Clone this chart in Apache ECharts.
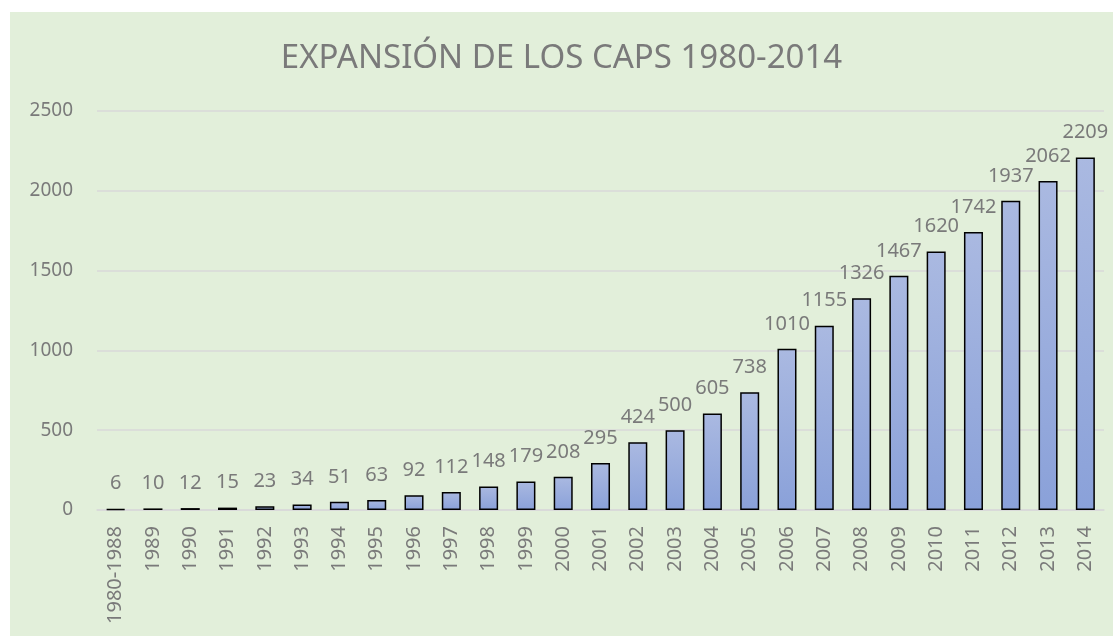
<!DOCTYPE html>
<html lang="es">

<head>
    <meta charset="utf-8">
    <title>Expansión de los CAPS 1980-2014</title>
    <style>
        * {
            margin: 0;
            padding: 0;
        }

        body {
            background: #ffffff;
        }

        #chart-container {
            position: absolute;
            left: 10px;
            top: 12px;
            width: 1103px;
            height: 624px;
            background: #E2EFDA;
        }
    </style>
</head>

<body>
    <div id="chart-container"></div>
    <script src="https://cdn.jsdelivr.net/npm/echarts@6/dist/echarts.min.js"></script>
    <script>
        // categorías (años) y cantidad acumulada de CAPS
        var years = ['1980-1988', '1989', '1990', '1991', '1992', '1993', '1994', '1995', '1996',
            '1997', '1998', '1999', '2000', '2001', '2002', '2003', '2004', '2005', '2006',
            '2007', '2008', '2009', '2010', '2011', '2012', '2013', '2014'];
        var caps = [6, 10, 12, 15, 23, 34, 51, 63, 92, 112, 148, 179, 208, 295, 424, 500, 605,
            738, 1010, 1155, 1326, 1467, 1620, 1742, 1937, 2062, 2209];
        var yTicks = [0, 500, 1000, 1500, 2000, 2500];

        var dom = document.getElementById('chart-container');
        var myChart = echarts.init(dom, null, { renderer: 'canvas' });
        var textGray = '#7a7a7a';
        var font = '"Noto Sans", "Open Sans", sans-serif';

        var option = {
            backgroundColor: '#E2EFDA',
            animation: false,
            title: {
                text: 'EXPANSIÓN DE LOS CAPS 1980-2014',
                left: 'center',
                top: 25,
                textStyle: {
                    color: textGray,
                    fontSize: 33,
                    fontWeight: 'normal',
                    fontFamily: font
                }
            },
            grid: {
                left: 87,
                right: 9,
                top: 99,
                bottom: 126
            },
            xAxis: {
                type: 'category',
                data: years,
                axisLine: { show: true, lineStyle: { color: '#d9d9d9', width: 1.5 } },
                axisTick: { show: false },
                axisLabel: {
                    rotate: 90,
                    interval: 0,
                    margin: 16,
                    color: textGray,
                    fontSize: 20,
                    fontFamily: font
                }
            },
            yAxis: {
                type: 'value',
                min: yTicks[0],
                max: yTicks[yTicks.length - 1],
                interval: 500,
                axisLine: { show: false },
                axisTick: { show: false },
                splitLine: { lineStyle: { color: '#d9d9d9', width: 1.5 } },
                axisLabel: {
                    margin: 24,
                    color: textGray,
                    fontSize: 19,
                    fontFamily: font,
                    formatter: function (v) { return String(v); }
                }
            },
            series: [
                {
                    type: 'bar',
                    data: caps,
                    barWidth: '51%',
                    itemStyle: {
                        color: new echarts.graphic.LinearGradient(0, 0, 0, 1, [
                            { offset: 0, color: '#aab9e1' },
                            { offset: 1, color: '#8aa1d9' }
                        ]),
                        borderColor: '#000000',
                        borderWidth: 1.5
                    },
                    label: {
                        show: true,
                        position: 'top',
                        distance: 15,
                        color: textGray,
                        fontSize: 20,
                        fontFamily: font
                    }
                }
            ]
        };

        myChart.setOption(option);
        window.addEventListener('resize', myChart.resize);
    </script>
</body>

</html>
